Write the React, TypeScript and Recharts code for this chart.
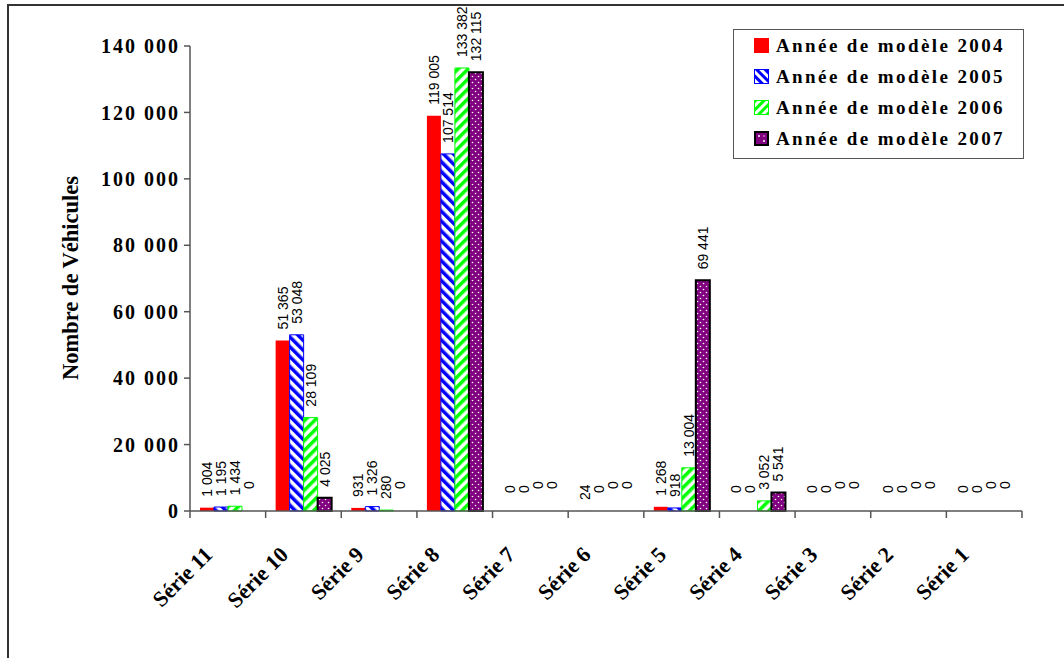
import React from 'react';
import { BarChart, Bar, XAxis, YAxis, Legend, Cell } from 'recharts';

const categories = ['Série 11', 'Série 10', 'Série 9', 'Série 8', 'Série 7', 'Série 6', 'Série 5', 'Série 4', 'Série 3', 'Série 2', 'Série 1'];
const y2004 = [1004, 51365, 931, 119005, 0, 24, 1268, 0, 0, 0, 0];
const y2005 = [1195, 53048, 1326, 107514, 0, 0, 918, 0, 0, 0, 0];
const y2006 = [1434, 28109, 280, 133382, 0, 0, 13004, 3052, 0, 0, 0];
const y2007 = [0, 4025, 0, 132115, 0, 0, 69441, 5541, 0, 0, 0];
const yTicks = [0, 20000, 40000, 60000, 80000, 100000, 120000, 140000];

const seriesNames = ['Année de modèle 2004', 'Année de modèle 2005', 'Année de modèle 2006', 'Année de modèle 2007'];

const W = 1064;
const H = 658;
const MARGIN = { top: 46, right: 42, bottom: 87, left: 90 };
const Y_AXIS_W = 100;
const X_AXIS_H = 60;
const PLOT_LEFT = MARGIN.left + Y_AXIS_W;
const PLOT_RIGHT = W - MARGIN.right;
const PLOT_BOTTOM = H - MARGIN.bottom - X_AXIS_H;
const BAND = (PLOT_RIGHT - PLOT_LEFT) / categories.length;

const data = categories.map((name, i) => ({
  name,
  y2004: y2004[i],
  y2005: y2005[i],
  y2006: y2006[i],
  y2007: y2007[i],
}));

const fmt = (v: number) => String(v).replace(/\B(?=(\d{3})+(?!\d))/g, ' ');

const SERIF = '"Liberation Serif", "Times New Roman", serif';
const SANS = '"Liberation Sans", Arial, sans-serif';

// zero labels sit a little higher than the others, 2006/2007 higher still
const makeLabel = (zeroGap: number) => (props: any) => {
  const { x, y, width, value } = props;
  const cx = x + width / 2;
  const ty = y - (Number(value) === 0 ? zeroGap : 11);
  return (
    <text
      x={cx}
      y={ty}
      transform={`rotate(-90, ${cx}, ${ty})`}
      textAnchor="start"
      dominantBaseline="central"
      fontFamily={SANS}
      fontSize={14}
      fill="#000"
    >
      {fmt(value)}
    </text>
  );
};

const XTick = (props: any) => {
  const { x, payload, index } = props;
  const left = x - BAND / 2;
  const ax = x - 14;
  const ay = PLOT_BOTTOM + 45;
  return (
    <g>
      <line x1={left} y1={PLOT_BOTTOM} x2={left} y2={PLOT_BOTTOM + 7} stroke="#555" strokeWidth={1.5} />
      {index === categories.length - 1 && (
        <line x1={left + BAND} y1={PLOT_BOTTOM} x2={left + BAND} y2={PLOT_BOTTOM + 7} stroke="#555" strokeWidth={1.5} />
      )}
      <text
        x={ax}
        y={ay}
        transform={`rotate(-45, ${ax}, ${ay})`}
        textAnchor="end"
        fontFamily={SERIF}
        fontWeight="bold"
        fontSize={22}
        fill="#000"
      >
        {payload.value}
      </text>
    </g>
  );
};

const Marker = ({ i }: { i: number }) => (
  <svg width={15} height={15} style={{ display: 'block' }}>
    <defs>
      <pattern id="lg-blue" width={6} height={6} patternUnits="userSpaceOnUse" patternTransform="rotate(-45)">
        <rect width={6} height={6} fill="#fff" />
        <rect width={3} height={6} fill="#0000ff" />
      </pattern>
      <pattern id="lg-green" width={6} height={6} patternUnits="userSpaceOnUse" patternTransform="rotate(45)">
        <rect width={6} height={6} fill="#fff" />
        <rect width={3} height={6} fill="#00ff00" />
      </pattern>
    </defs>
    {i === 0 && <rect x={0} y={0} width={15} height={15} fill="#ff0000" />}
    {i === 1 && <rect x={0.5} y={0.5} width={14} height={14} fill="url(#lg-blue)" stroke="#0000ff" />}
    {i === 2 && <rect x={0.5} y={0.5} width={14} height={14} fill="url(#lg-green)" stroke="#00ff00" />}
    {i === 3 && (
      <g>
        <rect x={1} y={1} width={13} height={13} fill="#800080" stroke="#000" strokeWidth={2} />
        <circle cx={5} cy={5} r={1} fill="#fff" />
        <circle cx={10} cy={10} r={1} fill="#fff" />
        <circle cx={10} cy={5} r={0.8} fill="#e6c6e6" />
      </g>
    )}
  </svg>
);

const LegendBox = () => (
  <div
    style={{
      width: 291,
      height: 130,
      border: '1px solid #555',
      background: '#fff',
      boxSizing: 'border-box',
      padding: '0 0 0 20px',
    }}
  >
    {seriesNames.map((n, i) => (
      <div key={n} style={{ display: 'flex', alignItems: 'center', height: 31 }}>
        <Marker i={i} />
        <span
          style={{
            marginLeft: 7,
            fontFamily: SERIF,
            fontWeight: 'bold',
            fontSize: 19,
            letterSpacing: 2.4,
            color: '#000',
            whiteSpace: 'nowrap',
          }}
        >
          {n}
        </span>
      </div>
    ))}
  </div>
);

const tinyIfZero = (v: any) => (Number(v) === 0 ? 0.01 : 0);

export default function App() {
  return (
    <div style={{ position: 'absolute', left: 0, top: 0, width: W, height: H, overflow: 'hidden', background: '#fff' }}>
      <div
        style={{
          position: 'absolute',
          left: 7,
          top: 4,
          width: 1200,
          height: 800,
          border: '2px solid #333',
          boxSizing: 'border-box',
        }}
      />
      <div style={{ position: 'absolute', left: 0, top: 0 }}>
        <BarChart width={W} height={H} data={data} margin={MARGIN} barGap={0} barSize={14}>
          <defs>
            <pattern id="p-blue" width={7} height={7} patternUnits="userSpaceOnUse" patternTransform="rotate(-45)">
              <rect width={7} height={7} fill="#fff" />
              <rect width={3.5} height={7} fill="#0000ff" />
            </pattern>
            <pattern id="p-green" width={7} height={7} patternUnits="userSpaceOnUse" patternTransform="rotate(45)">
              <rect width={7} height={7} fill="#fff" />
              <rect width={3.5} height={7} fill="#00ff00" />
            </pattern>
            <pattern id="p-purple" width={6} height={6} patternUnits="userSpaceOnUse">
              <rect width={6} height={6} fill="#800080" />
              <circle cx={1.5} cy={1.5} r={0.8} fill="#fff" />
              <circle cx={4.5} cy={4.5} r={0.8} fill="#fff" />
            </pattern>
          </defs>
          <XAxis
            dataKey="name"
            height={X_AXIS_H}
            interval={0}
            tickLine={false}
            axisLine={{ stroke: '#555', strokeWidth: 1.5 }}
            tick={<XTick />}
          />
          <YAxis
            width={Y_AXIS_W}
            domain={[0, 140000]}
            ticks={yTicks}
            interval={0}
            tickFormatter={fmt}
            axisLine={{ stroke: '#555', strokeWidth: 1.5 }}
            tickLine={{ stroke: '#555', strokeWidth: 1.5 }}
            tickSize={6}
            tickMargin={4}
            tick={{ fill: '#000', fontFamily: SERIF, fontWeight: 'bold', fontSize: 20, letterSpacing: 2 } as any}
            label={{
              content: () => (
                <text
                  x={70}
                  y={278}
                  transform="rotate(-90, 70, 278)"
                  textAnchor="middle"
                  dominantBaseline="central"
                  fontFamily={SERIF}
                  fontWeight="bold"
                  fontSize={22.5}
                  fill="#000"
                >
                  Nombre de Véhicules
                </text>
              ),
            }}
          />
          <Legend
            layout="vertical"
            align="center"
            verticalAlign="middle"
            content={() => <LegendBox />}
            wrapperStyle={{ left: 733, top: 29, width: 291, height: 130 }}
          />
          <Bar dataKey="y2004" name={seriesNames[0]} fill="#ff0000" minPointSize={tinyIfZero} isAnimationActive={false} label={makeLabel(18)} />
          <Bar dataKey="y2005" name={seriesNames[1]} fill="url(#p-blue)" stroke="#0000ff" strokeWidth={1} minPointSize={tinyIfZero} isAnimationActive={false} label={makeLabel(18)}>
            {y2005.map((v, i) => (
              <Cell key={i} stroke={v === 0 ? 'none' : '#0000ff'} />
            ))}
          </Bar>
          <Bar dataKey="y2006" name={seriesNames[2]} fill="url(#p-green)" stroke="#00ff00" strokeWidth={1} minPointSize={tinyIfZero} isAnimationActive={false} label={makeLabel(22)}>
            {y2006.map((v, i) => (
              <Cell key={i} stroke={v === 0 ? 'none' : '#00ff00'} />
            ))}
          </Bar>
          <Bar dataKey="y2007" name={seriesNames[3]} fill="url(#p-purple)" stroke="#000" strokeWidth={2} minPointSize={tinyIfZero} isAnimationActive={false} label={makeLabel(22)}>
            {y2007.map((v, i) => (
              <Cell key={i} stroke={v === 0 ? 'none' : '#000'} />
            ))}
          </Bar>
        </BarChart>
      </div>
    </div>
  );
}
